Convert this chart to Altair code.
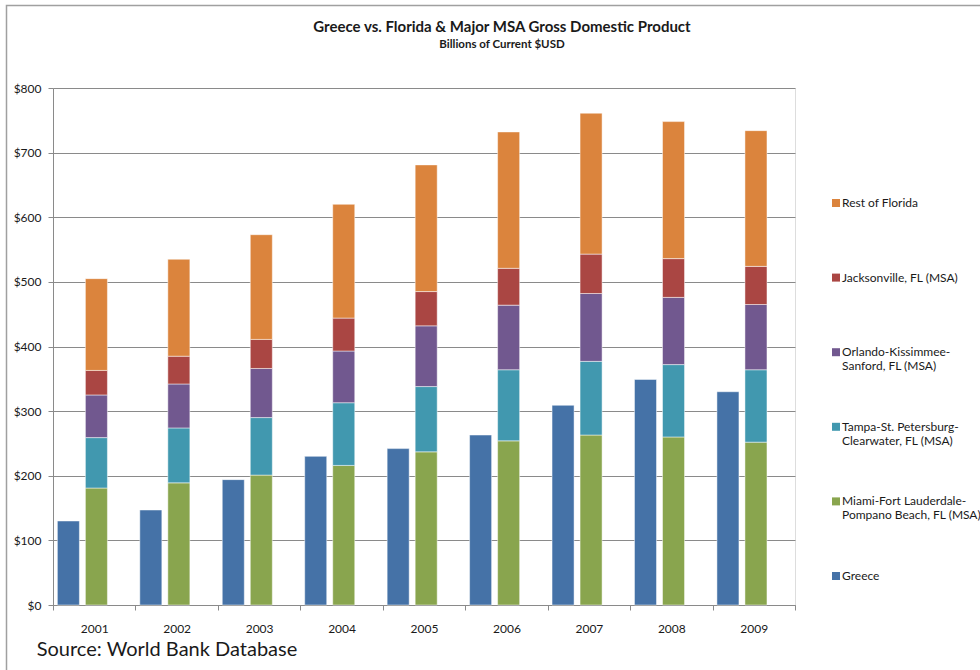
import altair as alt
import pandas as pd

# GDP in billions of current US dollars
years = ["2001", "2002", "2003", "2004", "2005", "2006", "2007", "2008", "2009"]
greece = [130, 147, 194, 230, 242, 263, 309, 349, 330]
miami = [181, 189, 201, 216, 237, 254, 263, 260, 252]
tampa = [78, 85, 89, 97, 101, 110, 114, 112, 112]
orlando = [66, 68, 76, 80, 94, 100, 105, 104, 101]
jacksonville = [38, 43, 45, 51, 53, 57, 61, 60, 59]
rest_of_florida = [142, 150, 162, 176, 196, 211, 218, 212, 210]

title_text = "Greece vs. Florida & Major MSA Gross Domestic Product"
subtitle_text = "Billions of Current $USD"
source_text = "Source:  World Bank Database"

# series name, values, bar group, stacking position (bottom first), colour
series = [
    ("Miami-Fort Lauderdale-Pompano Beach, FL (MSA)", miami, "Florida", 0, "#89A54E"),
    ("Tampa-St. Petersburg-Clearwater, FL (MSA)", tampa, "Florida", 1, "#4198AF"),
    ("Orlando-Kissimmee-Sanford, FL (MSA)", orlando, "Florida", 2, "#71588F"),
    ("Jacksonville, FL (MSA)", jacksonville, "Florida", 3, "#AA4643"),
    ("Rest of Florida", rest_of_florida, "Florida", 4, "#DB843D"),
    ("Greece", greece, "Greece", 0, "#4572A7"),
]

# legend order: top of the stack first, Greece last
legend_order = [
    "Rest of Florida",
    "Jacksonville, FL (MSA)",
    "Orlando-Kissimmee-Sanford, FL (MSA)",
    "Tampa-St. Petersburg-Clearwater, FL (MSA)",
    "Miami-Fort Lauderdale-Pompano Beach, FL (MSA)",
    "Greece",
]
# legend labels wrapped onto two lines (blank second line keeps rows even)
legend_lines = {
    "Rest of Florida": ["Rest of Florida", " "],
    "Jacksonville, FL (MSA)": ["Jacksonville, FL (MSA)", " "],
    "Orlando-Kissimmee-Sanford, FL (MSA)": ["Orlando-Kissimmee-", "Sanford, FL (MSA)"],
    "Tampa-St. Petersburg-Clearwater, FL (MSA)": ["Tampa-St. Petersburg-", "Clearwater, FL (MSA)"],
    "Miami-Fort Lauderdale-Pompano Beach, FL (MSA)": ["Miami-Fort Lauderdale-", "Pompano Beach, FL (MSA)"],
    "Greece": ["Greece", " "],
}
colour_of = {name: col for name, _, _, _, col in series}

rows = []
for name, vals, group, pos, _ in series:
    for yr, v in zip(years, vals):
        rows.append({"Year": yr, "Series": name, "Group": group, "Value": v, "StackOrder": pos})
df = pd.DataFrame(rows)

label_expr = ""
for name, lines in legend_lines.items():
    label_expr += "datum.label == '%s' ? ['%s', '%s'] : " % (name, lines[0], lines[1])
label_expr += "datum.label"

FONT = "Lato"
TEXT = "#1a1a1a"
GRID = "#8a8a8a"

W, H = 742, 517
PAD_L, PAD_T = 53, 88

bars = alt.Chart(df).mark_bar(stroke="white", strokeOpacity=0.6, strokeWidth=0.8).encode(
    x=alt.X(
        "Year:N",
        sort=years,
        scale=alt.Scale(paddingInner=0, paddingOuter=0),
        axis=alt.Axis(
            title=None, labelAngle=0, tickBand="extent", tickSize=5, tickColor=GRID,
            domainColor=GRID, labelPadding=13, labelFont=FONT, labelFontSize=12,
            labelColor=TEXT, grid=False,
        ),
    ),
    xOffset=alt.XOffset(
        "Group:N",
        scale=alt.Scale(domain=["Greece", "Florida", "_"], paddingInner=0.214,
                        paddingOuter=0.078, align=1),
    ),
    y=alt.Y(
        "Value:Q",
        stack="zero",
        scale=alt.Scale(domain=[0, 800], nice=False),
        axis=alt.Axis(
            title=None, values=list(range(0, 801, 100)), format="$,.0f", tickSize=5,
            tickColor=GRID, domainColor=GRID, gridColor=GRID, gridWidth=1,
            labelPadding=7, labelFont=FONT, labelFontSize=12, labelColor=TEXT,
        ),
    ),
    color=alt.Color(
        "Series:N",
        scale=alt.Scale(domain=legend_order, range=[colour_of[n] for n in legend_order]),
        legend=alt.Legend(
            title=None, orient="none", legendX=777, legendY=109, symbolType="square",
            symbolSize=64, symbolStrokeWidth=0, labelFont=FONT, labelFontSize=12,
            labelColor=TEXT, labelExpr=label_expr, rowPadding=48.6, labelOffset=0,
            labelLimit=200, padding=0,
        ),
    ),
    order=alt.Order("StackOrder:Q"),
)

text_df = pd.DataFrame({"title": [title_text], "subtitle": [subtitle_text], "source": [source_text]})

# chart heading, centred over the whole chart frame
title = alt.Chart(text_df).mark_text(
    align="center", baseline="alphabetic", font=FONT, fontSize=15, fontWeight="bold", color=TEXT
).encode(text="title:N", x=alt.value(502 - PAD_L), y=alt.value(31.7 - PAD_T))

subtitle = alt.Chart(text_df).mark_text(
    align="center", baseline="alphabetic", font=FONT, fontSize=11.5, fontWeight="bold", color=TEXT
).encode(text="subtitle:N", x=alt.value(502 - PAD_L), y=alt.value(48.3 - PAD_T))

source = alt.Chart(text_df).mark_text(
    align="left", baseline="alphabetic", font=FONT, fontSize=20, color=TEXT
).encode(text="source:N", x=alt.value(36.7 - PAD_L), y=alt.value(656 - PAD_T))

frame = alt.Chart(text_df).mark_rect(
    filled=False, stroke="#a0a0a0", strokeWidth=1.5
).encode(
    x=alt.value(6.5 - PAD_L), x2=alt.value(1100), y=alt.value(5.5 - PAD_T), y2=alt.value(700)
)

chart = alt.layer(frame, bars, title, subtitle, source).properties(
    width=W,
    height=H,
    autosize=alt.AutoSizeParams(type="none"),
    padding={"left": PAD_L, "top": PAD_T, "right": 980 - PAD_L - W, "bottom": 670 - PAD_T - H},
).configure_view(stroke="#d9d9d9", strokeWidth=1).configure(background="white")

chart.save("out.html", embed_options={"renderer": "svg", "actions": False})
